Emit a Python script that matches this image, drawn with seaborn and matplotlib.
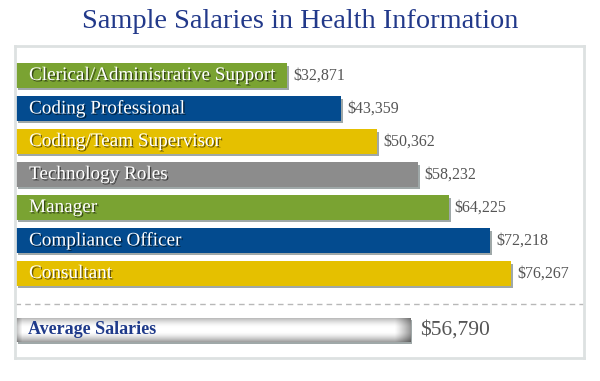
import matplotlib
matplotlib.use("Agg")
import matplotlib.pyplot as plt
import matplotlib.patheffects as pe
import numpy as np
import seaborn as sns

roles = ["Clerical/Administrative Support", "Coding Professional", "Coding/Team Supervisor",
         "Technology Roles", "Manager", "Compliance Officer", "Consultant"]
salaries = [32871, 43359, 50362, 58232, 64225, 72218, 76267]
bar_colors = ["#7aa332", "#034b8f", "#e5c000", "#8c8c8c", "#7aa332", "#034b8f", "#e5c000"]
avg_label = "Average Salaries"
avg_salary = 56790
title = "Sample Salaries in Health Information"

sns.set_style("white")
plt.rcParams["font.family"] = ["Liberation Serif", "DejaVu Serif"]

# axis range: bars start left of zero (design offset of the original)
XMIN, XMAX, BASE = -19800, 90400, -19600
AVG_POS, SEP_POS, H = 7.7, 6.92, 0.73

fig = plt.figure(figsize=(6, 3.81), dpi=100)
ax = fig.add_axes([15 / 600, 1 - 358 / 381, 569 / 600, 312 / 381])

sns.barplot(x=salaries, y=roles, hue=roles, palette=bar_colors, legend=False,
            orient="h", width=H, ax=ax, saturation=1, linewidth=0)

shadow = [pe.SimplePatchShadow(offset=(1.2, -1.6), shadow_rgbFace="#5f6f6f", alpha=0.6), pe.Normal()]
txt_shadow = [pe.withSimplePatchShadow(offset=(1, -1), shadow_rgbFace="black", alpha=0.55)]

for p in ax.patches:
    w = p.get_width()
    p.set_x(BASE)
    p.set_width(w - BASE)
    p.set_edgecolor("none")
    p.set_path_effects(shadow)

for i, (r, s) in enumerate(zip(roles, salaries)):
    ax.annotate(r, (BASE, i), xytext=(13, 0), textcoords="offset pixels", ha="left", va="center",
                color="white", fontsize=13.8, path_effects=txt_shadow)
    ax.annotate(f"${s:,}", (s, i), xytext=(6, 0), textcoords="offset pixels", ha="left",
                va="center", color="#555555", fontsize=11.5)

# average bar with a silver gradient
avg_bar = ax.barh(AVG_POS, avg_salary - BASE, left=BASE, height=H, color="white", linewidth=0)[0]
avg_bar.set_path_effects(shadow)
t = np.linspace(0, 1, 60)[:, None]
u = np.linspace(0, 1, 400)[None, :]
vert = 1 - 0.32 * np.clip(1 - t / 0.4, 0, 1) ** 1.5 - 0.38 * np.clip((t - 0.6) / 0.4, 0, 1) ** 1.5
horiz = 1 - 0.4 * np.clip((u - 0.96) / 0.04, 0, 1) ** 1.2 - 0.25 * np.clip(1 - u / 0.015, 0, 1)
shade = np.clip(vert * horiz, 0, 1)
img = np.dstack([shade, shade, shade])
im = ax.imshow(img, extent=[BASE, avg_salary, AVG_POS + H / 2, AVG_POS - H / 2],
               aspect="auto", zorder=avg_bar.get_zorder() + 0.1)
im.set_clip_path(avg_bar)
ax.annotate(avg_label, (BASE, AVG_POS), xytext=(12, 0), textcoords="offset pixels", ha="left",
            va="center", color="#1f3a8a", fontsize=13, fontweight="bold", zorder=5)
ax.annotate(f"${avg_salary:,}", (avg_salary, AVG_POS), xytext=(10, 0), textcoords="offset pixels",
            ha="left", va="center", color="#555555", fontsize=15.5, zorder=5)

ax.axhline(SEP_POS, color="#b8b8b8", lw=1, ls=(0, (4, 3)))

ax.set_xlim(XMIN, XMAX)
ax.set_ylim(8.56, -0.894)
ax.set_xticks([])
ax.set_yticks([])
ax.set_xlabel("")
ax.set_ylabel("")
for sp in ax.spines.values():
    sp.set_color("#dde1e1")
    sp.set_linewidth(2)

fig.text(0.5, 1 - 22 / 381, title, ha="center", va="center", color="#22398a", fontsize=20.4)

fig.savefig("out.png", dpi=100)
